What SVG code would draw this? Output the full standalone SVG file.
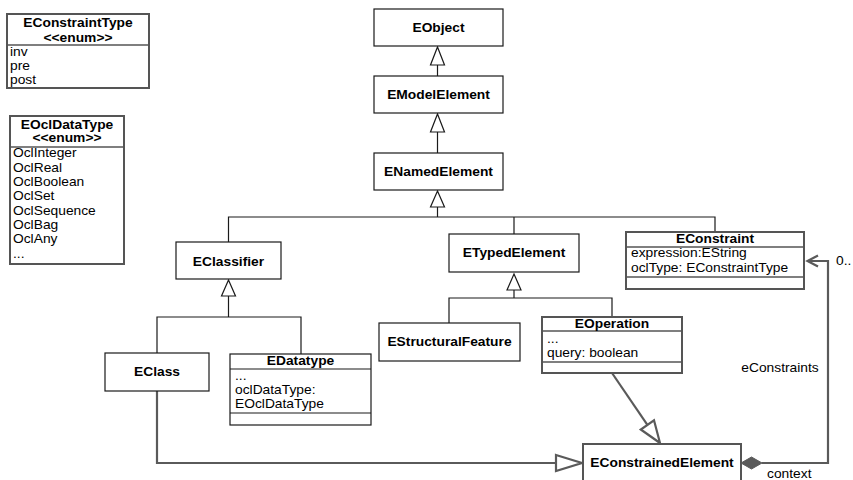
<svg xmlns="http://www.w3.org/2000/svg" width="853" height="480" viewBox="0 0 853 480">
<style>
.bg{fill:#fff}
.box{fill:#fff;stroke:#1a1a1a;stroke-width:1.2}
.gbox{fill:#fff;stroke:#555;stroke-width:2}
.div{stroke:#555;stroke-width:1.5;fill:none}
.ln{fill:none;stroke:#1a1a1a;stroke-width:1.2}
.gln{fill:none;stroke:#5a5a5a;stroke-width:2.2}
.tri{fill:#fff;stroke:#1a1a1a;stroke-width:1.2}
.gtri{fill:#fff;stroke:#5a5a5a;stroke-width:2.2}
.dia{fill:#5a5a5a;stroke:#5a5a5a;stroke-width:1}
text{font-family:"Liberation Sans",Arial,sans-serif;font-size:12px;fill:#000}
.b{font-weight:bold;text-anchor:middle}
.m{text-anchor:middle}
</style>
<rect class="bg" x="0" y="0" width="853" height="480"/>

<g id="connectors">
  <line class="ln" x1="437.5" y1="65" x2="437.5" y2="76"/>
  <polygon class="tri" points="437.5,47 444.5,65 430.5,65"/>
  <line class="ln" x1="437.5" y1="132" x2="437.5" y2="153"/>
  <polygon class="tri" points="437.5,114 444.5,132 430.5,132"/>
  <line class="ln" x1="437.5" y1="207" x2="437.5" y2="217"/>
  <polygon class="tri" points="437.5,191 444.5,207 430.5,207"/>
  <path class="ln" d="M228.5,242 V217 H715 V232 M514,217 V234"/>
  <line class="ln" x1="228.5" y1="296" x2="228.5" y2="317"/>
  <polygon class="tri" points="228.5,280 235.5,296 221.5,296"/>
  <path class="ln" d="M157,353 V317 H301 V354"/>
  <line class="ln" x1="514" y1="290" x2="514" y2="298"/>
  <polygon class="tri" points="514,274 521,290 507,290"/>
  <path class="ln" d="M449,323 V298 H612 V317"/>
  <path class="gln" d="M157,391 V463 H556"/>
  <polygon class="gtri" points="556,455 582,463 556,471"/>
  <line class="gln" x1="612" y1="373" x2="647.4" y2="424.9"/>
  <polygon class="gtri" points="640.8,429.5 660,443 654,420.3"/>
  <path class="gln" d="M762,463 H828 V261 H808"/>
  <polyline class="gln" points="818,255.5 807.5,261 818,266.5"/>
  <polygon class="dia" points="741,463 751.5,457 762,463 751.5,469"/>
  <text transform="translate(836 265) scale(1.15 1)">0..</text>
  <text class="m" transform="translate(780 372) scale(1.15 1)">eConstraints</text>
  <text transform="translate(767 478) scale(1.15 1)">context</text>
</g>

<g id="EConstraintType">
  <rect class="gbox" x="7" y="14" width="142" height="74"/>
  <line class="div" x1="7" y1="45" x2="149" y2="45"/>
  <text class="b" transform="translate(78 27) scale(1.15 1)">EConstraintType</text>
  <text class="b" transform="translate(78 42) scale(1.15 1)">&lt;&lt;enum&gt;&gt;</text>
  <text transform="translate(10 56) scale(1.15 1)">inv</text>
  <text transform="translate(10 70) scale(1.15 1)">pre</text>
  <text transform="translate(10 84) scale(1.15 1)">post</text>
</g>

<g id="EOclDataType">
  <rect class="gbox" x="10" y="116" width="114" height="148"/>
  <line class="div" x1="10" y1="147" x2="124" y2="147"/>
  <text class="b" transform="translate(67 129) scale(1.15 1)">EOclDataType</text>
  <text class="b" transform="translate(67 142) scale(1.15 1)">&lt;&lt;enum&gt;&gt;</text>
  <text transform="translate(13 157) scale(1.15 1)">OclInteger</text>
  <text transform="translate(13 171.5) scale(1.15 1)">OclReal</text>
  <text transform="translate(13 186) scale(1.15 1)">OclBoolean</text>
  <text transform="translate(13 200) scale(1.15 1)">OclSet</text>
  <text transform="translate(13 214.5) scale(1.15 1)">OclSequence</text>
  <text transform="translate(13 229) scale(1.15 1)">OclBag</text>
  <text transform="translate(13 243) scale(1.15 1)">OclAny</text>
  <text transform="translate(13 258) scale(1.15 1)">...</text>
</g>

<g id="EObject">
  <rect class="box" x="374" y="9" width="129" height="37"/>
  <text class="b" transform="translate(438.5 32) scale(1.15 1)">EObject</text>
</g>
<g id="EModelElement">
  <rect class="box" x="374" y="76" width="129" height="37"/>
  <text class="b" transform="translate(438.5 99) scale(1.15 1)">EModelElement</text>
</g>
<g id="ENamedElement">
  <rect class="box" x="374" y="153" width="129" height="37"/>
  <text class="b" transform="translate(438.5 176) scale(1.15 1)">ENamedElement</text>
</g>
<g id="EClassifier">
  <rect class="box" x="176" y="242" width="105" height="37"/>
  <text class="b" transform="translate(228.5 266) scale(1.15 1)">EClassifier</text>
</g>
<g id="ETypedElement">
  <rect class="box" x="449" y="234" width="130" height="38"/>
  <text class="b" transform="translate(514 257) scale(1.15 1)">ETypedElement</text>
</g>
<g id="EConstraint">
  <rect class="gbox" x="626" y="232" width="178" height="57"/>
  <line class="div" x1="626" y1="247" x2="804" y2="247"/>
  <line class="div" x1="626" y1="277" x2="804" y2="277"/>
  <text class="b" transform="translate(715 243) scale(1.15 1)">EConstraint</text>
  <text transform="translate(631 257) scale(1.15 1)">expression:EString</text>
  <text transform="translate(631 272) scale(1.15 1)">oclType: EConstraintType</text>
</g>
<g id="EClass">
  <rect class="box" x="105" y="353" width="104" height="38"/>
  <text class="b" transform="translate(157 376) scale(1.15 1)">EClass</text>
</g>
<g id="EDatatype">
  <rect class="box" x="230" y="354" width="141" height="71"/>
  <line class="ln" x1="230" y1="369" x2="371" y2="369"/>
  <line class="ln" x1="230" y1="413" x2="371" y2="413"/>
  <text class="b" transform="translate(300.5 365) scale(1.15 1)">EDatatype</text>
  <text transform="translate(235 380) scale(1.15 1)">...</text>
  <text transform="translate(235 394) scale(1.15 1)">oclDataType:</text>
  <text transform="translate(235 408) scale(1.15 1)">EOclDataType</text>
</g>
<g id="EStructuralFeature">
  <rect class="box" x="379" y="323" width="141" height="38"/>
  <text class="b" transform="translate(449.5 346) scale(1.15 1)">EStructuralFeature</text>
</g>
<g id="EOperation">
  <rect class="gbox" x="542" y="317" width="140" height="56"/>
  <line class="div" x1="542" y1="331" x2="682" y2="331"/>
  <line class="div" x1="542" y1="362" x2="682" y2="362"/>
  <text class="b" transform="translate(612 328) scale(1.15 1)">EOperation</text>
  <text transform="translate(547 343) scale(1.15 1)">...</text>
  <text transform="translate(547 357) scale(1.15 1)">query: boolean</text>
</g>
<g id="EConstrainedElement">
  <rect class="gbox" x="583" y="444" width="158" height="50"/>
  <text class="b" transform="translate(662 467) scale(1.15 1)">EConstrainedElement</text>
</g>
</svg>
